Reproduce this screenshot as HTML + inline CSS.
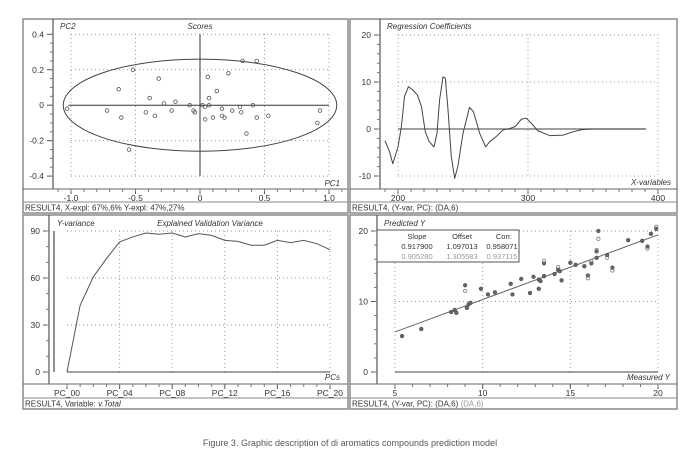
<!DOCTYPE html>
<html><head><meta charset="utf-8">
<style>
html,body{margin:0;padding:0;background:#fff;}
svg{display:block;font-family:"Liberation Sans",Arial,sans-serif;}
</style></head>
<body>
<svg id="s" width="700" height="474" viewBox="0 0 700 474">
<text x="350" y="446" font-size="9" fill="#555" text-anchor="middle">Figure 3. Graphic description of di aromatics compounds prediction model</text>
</svg>
<script>
// ---- Scores data ----
const scorePC1=[-1.03,-0.72,-0.61,-0.63,-0.52,-0.55,-0.42,-0.39,-0.35,-0.32,-0.28,-0.22,-0.19,-0.08,-0.05,-0.04,0.02,0.04,0.04,0.06,0.07,0.07,0.10,0.13,0.17,0.17,0.19,0.22,0.25,0.31,0.32,0.33,0.36,0.41,0.44,0.44,0.53,0.91,0.93];
const scorePC2=[-0.02,-0.03,-0.07,0.09,0.20,-0.25,-0.04,0.04,-0.06,0.15,0.01,-0.03,0.02,0.00,-0.03,-0.04,0.00,-0.01,-0.08,0.16,0.04,0.00,-0.07,0.08,-0.02,-0.06,-0.07,0.18,-0.03,-0.01,-0.04,0.25,-0.16,0.00,0.25,-0.07,-0.06,-0.10,-0.03];
const scoreXTicks=[-1.0,-0.5,0,0.5,1.0];
const scoreYTicks=[0.4,0.2,0,-0.2,-0.4];
// ---- Regression coefficients ----
const coefX=[190,193.5,196,200,202.6,205,208,211.5,215,218,221,224,227.7,230,232,234.6,236.4,238.5,241,243.6,246,250,255,258,262.8,267.4,270.5,275.6,280.8,286,290,295,298.7,302.6,307.7,316.7,327,334.6,342,350,391];
const coefY=[-2.5,-4.8,-7.4,-3.8,0.5,6.9,9.0,8.3,7.2,4.8,-0.6,-2.7,-3.8,-0.9,6.2,11.1,10.8,4.0,-5.9,-10.5,-8.0,-0.9,4.6,3.7,-0.9,-3.8,-2.7,-1.6,-0.2,0.1,0.5,2.1,2.3,1.2,-0.4,-1.4,-1.3,-0.6,-0.1,0,0];
const coefXTicks=[200,300,400];
const coefYTicks=[20,10,0,-10];
// ---- Explained variance ----
const pcIndex=[0,1,2,3,4,5,6,7,8,9,10,11,12,13,14,15,16,17,18,19,20];
const varValues=[0,42.6,60.7,72.4,83,86.2,88.7,87.9,88.7,86.2,88.3,87.2,84,83.4,80.9,80.9,84,82.6,84,81.9,78.1];
const varXTickLabels=["PC_00","PC_04","PC_08","PC_12","PC_16","PC_20"];
const varYTicks=[90,60,30,0];
// ---- Predicted vs measured ----
const measY=[5.4,6.5,8.2,8.4,8.5,9.0,9.1,9.2,9.3,9.9,10.3,10.7,11.6,11.7,12.2,12.7,12.9,13.2,13.2,13.3,13.5,13.5,14.1,14.3,14.4,14.5,15.0,15.3,15.8,16.0,16.2,16.5,16.5,16.6,17.1,17.4,18.3,19.1,19.4,19.6,19.9];
const predCal=[5.1,6.1,8.5,8.8,8.4,12.3,9.1,9.6,9.8,11.8,11.0,11.3,12.5,11.0,13.2,11.2,13.5,13.1,11.8,12.9,15.4,13.6,13.9,14.5,14.3,13.0,15.5,15.2,15.0,13.7,15.4,17.1,16.2,20.0,16.6,14.8,18.7,18.6,17.8,19.6,20.3];
const predVal=[5.1,6.1,8.5,8.8,8.4,11.5,9.1,9.6,9.8,11.8,11.0,11.3,12.5,11.0,13.2,11.2,13.5,13.1,11.8,12.9,15.8,13.6,13.9,14.9,14.3,13.0,15.5,15.2,15.0,13.3,15.7,17.3,16.2,18.9,16.2,14.4,18.7,18.6,17.5,19.6,20.6];
const predXTicks=[5,10,15,20];
const predYTicks=[20,10,0];
const fitSlope=0.9179, fitOffset=1.097;

const NS="http://www.w3.org/2000/svg";
const svg=document.getElementById('s');
function mk(tag,attrs,parent){const e=document.createElementNS(NS,tag);for(const k in attrs)e.setAttribute(k,attrs[k]);(parent||svg).appendChild(e);return e;}
function txt(x,y,s,size,anchor,parent,italic,fill){const t=mk('text',{x:x,y:y,'font-size':size,'text-anchor':anchor||'start',fill:fill||'#333'},parent);if(italic)t.setAttribute('font-style','italic');t.textContent=s;return t;}

function panel(name,x0,x1,y0,y1,axisX,bottom,sep,status,status2){
  const g=mk('g',{});
  
  
  mk('rect',{x:x0,y:y0,width:x1-x0,height:y1-y0,fill:'#fff',stroke:'#8a8a8a','stroke-width':1.5},g);
  mk('line',{x1:axisX,y1:y0,x2:axisX,y2:bottom,stroke:'#555','stroke-width':1.2},g);
  mk('line',{x1:x0,y1:bottom,x2:x1,y2:bottom,stroke:'#666','stroke-width':1},g);
  mk('line',{x1:x0,y1:sep,x2:x1,y2:sep,stroke:'#888','stroke-width':1},g);
  const st=txt(x0+2,sep+8.5,status,8,'start',g,false,'#333');
  
  
  if(status2){const t2=mk('tspan',{fill:'#999'},st);t2.textContent=status2;}
  return g;
}
function lin(d0,d1,p0,p1){return v=>p0+(v-d0)*(p1-p0)/(d1-d0);}
function grid(g,xs,ys,X,Y,xr,yr){
  xs.forEach(v=>mk('line',{x1:X(v),x2:X(v),y1:yr[0],y2:yr[1],stroke:'#999','stroke-dasharray':'1,3'},g));
  ys.forEach(v=>mk('line',{x1:xr[0],x2:xr[1],y1:Y(v),y2:Y(v),stroke:'#999','stroke-dasharray':'1,3'},g));
}
function yTicks(g,ticks,Y,axisX,fmt,minorStep){
  ticks.forEach(v=>{mk('line',{x1:axisX-6,x2:axisX,y1:Y(v),y2:Y(v),stroke:'#555'},g);
    const t=txt(axisX-9,Y(v)+3,fmt(v),8.5,'end',g);});
  const lo=Math.min(...ticks),hi=Math.max(...ticks);
  for(let v=lo;v<=hi+1e-9;v+=minorStep)mk('line',{x1:axisX-3,x2:axisX,y1:Y(v),y2:Y(v),stroke:'#777'},g);
}
function xTicks(g,ticks,labels,X,bottom,minorVals){
  ticks.forEach((v,i)=>{mk('line',{x1:X(v),x2:X(v),y1:bottom,y2:bottom+5,stroke:'#555'},g);
    const t=txt(X(v),bottom+12,labels[i],8.5,'middle',g);});
  minorVals.forEach(v=>mk('line',{x1:X(v),x2:X(v),y1:bottom,y2:bottom+3,stroke:'#777'},g));
}
function range(a,b,s){const r=[];for(let v=a;v<=b+1e-9;v+=s)r.push(+v.toFixed(6));return r;}

// ===== Panel 1: Scores =====
{
 const g=panel('scores-panel',23,348,19,213,53,189,202,'RESULT4, X-expl: 67%,6%  Y-expl: 47%,27%');
 const X=lin(-1,1,71,329),Y=lin(0,0.4,105.2,34.3);
 grid(g,[-1,-0.5,0.5,1],[0.4,0.2,-0.2,-0.4],X,Y,[71,329],[34,176]);
 mk('line',{x1:X(-1.02),x2:X(1.0),y1:Y(0),y2:Y(0),stroke:'#333'},g);
 mk('line',{x1:X(0),x2:X(0),y1:Y(0.4),y2:Y(-0.4),stroke:'#333'},g);
 const el=mk('ellipse',{cx:X(0),cy:Y(0),rx:X(1.06)-X(0),ry:Y(0)-Y(0.26),fill:'none',stroke:'#444'},g);
 
 yTicks(g,scoreYTicks,Y,53,v=>v===0?'0':v.toFixed(1),0.05);
 xTicks(g,scoreXTicks,scoreXTicks.map(v=>v===0?'0':v.toFixed(1)),X,189,range(-1.1,1.1,0.1));
 scorePC1.forEach((v,i)=>{const c=mk('circle',{cx:X(v),cy:Y(scorePC2[i]),r:1.8,fill:'none',stroke:'#555','stroke-width':0.8},g);
   });
 txt(60,29,'PC2',8,'start',g,true);txt(200,29,'Scores',8,'middle',g,true);txt(340,186,'PC1',8,'end',g,true);
}
// ===== Panel 2: Regression coefficients =====
{
 const g=panel('regression-coefficients-panel',350,677,19,213,380,189,202,'RESULT4, (Y-var, PC): (DA,6)');
 const X=lin(200,400,398,658),Y=lin(0,10,129,82);
 grid(g,[200,300,400],[20,10,-10],X,Y,[398,658],[34,176]);
 mk('line',{x1:X(200),x2:X(390),y1:Y(0),y2:Y(0),stroke:'#666','stroke-width':1.3},g);
 yTicks(g,coefYTicks,Y,380,v=>String(v),2);
 xTicks(g,coefXTicks,coefXTicks.map(String),X,189,range(190,400,10));
 const p=mk('polyline',{points:coefX.map((v,i)=>X(v)+','+Y(coefY[i])).join(' '),fill:'none',stroke:'#444','stroke-width':1,'stroke-linejoin':'round'},g);
 
 txt(387,29,'Regression Coefficients',8,'start',g,true);txt(671,185,'X-variables',8,'end',g,true);
}
// ===== Panel 3: Explained variance =====
{
 const g=panel('explained-variance-panel',23,348,215,409,49,384,398,'RESULT4, Variable:  ');
 const st=g.lastChild;const t2=mk('tspan',{'font-style':'italic'},st);t2.textContent='v.Total';
 const X=lin(0,20,67,330),Y=lin(0,90,372,231);
 grid(g,[4,8,12,16,20],[90,60,30],X,Y,[67,330],[231,372]);
 mk('line',{x1:54,x2:54,y1:231,y2:372,stroke:'#555','stroke-width':1.3},g);
 mk('line',{x1:X(0),x2:X(20),y1:Y(0),y2:Y(0),stroke:'#444'},g);
 yTicks(g,varYTicks,Y,49,v=>String(v),10);
 xTicks(g,[0,4,8,12,16,20],varXTickLabels,X,384,range(0,20,1));
 const p=mk('polyline',{points:pcIndex.map((v,i)=>X(v)+','+Y(varValues[i])).join(' '),fill:'none',stroke:'#555','stroke-width':1},g);
 
 txt(57,226,'Y-variance',8,'start',g,true);txt(210,226,'Explained Validation Variance',8,'middle',g,true);txt(340,380,'PCs',8,'end',g,true);
}
// ===== Panel 4: Predicted vs Measured =====
{
 const g=panel('predicted-vs-measured-panel',350,677,215,409,377,384,398,'RESULT4, (Y-var, PC): (DA,6) ','(DA,6)');
 const X=lin(5,20,395,658),Y=lin(0,20,372,231);
 grid(g,[5,10,15,20],[20,10],X,Y,[395,658],[231,372]);
 mk('line',{x1:X(5),x2:X(20),y1:Y(0),y2:Y(0),stroke:'#444'},g);
 yTicks(g,predYTicks,Y,377,v=>String(v),2);
 xTicks(g,predXTicks,predXTicks.map(String),X,384,range(5,20,1));
 const fl=mk('line',{x1:X(5),y1:Y(fitSlope*5+fitOffset),x2:X(20),y2:Y(fitSlope*20+fitOffset),stroke:'#666','stroke-width':1},g);
 
 measY.forEach((v,i)=>{const c=mk('circle',{cx:X(v),cy:Y(predVal[i]),r:1.7,fill:'#fff',stroke:'#777','stroke-width':0.8},g);
   });
 measY.forEach((v,i)=>{const c=mk('circle',{cx:X(v),cy:Y(predCal[i]),r:1.8,fill:'#666',stroke:'#555','stroke-width':0.6},g);
   });
 const box=mk('g',{},g);
 
 mk('rect',{x:377,y:230,width:142,height:32,fill:'#fff',stroke:'#555'},box);
 txt(417,239,'Slope',7.5,'middle',box);txt(462,239,'Offset',7.5,'middle',box);txt(504,239,'Corr.',7.5,'middle',box);
 txt(417,249,'0.917900',7.5,'middle',box);txt(462,249,'1.097013',7.5,'middle',box);txt(502,249,'0.958071',7.5,'middle',box);
 txt(417,259,'0.905280',7.5,'middle',box,false,'#999');txt(462,259,'1.305583',7.5,'middle',box,false,'#999');txt(502,259,'0.937115',7.5,'middle',box,false,'#999');
 txt(384,226,'Predicted Y',8,'start',g,true);txt(670,380,'Measured Y',8,'end',g,true);
}
</script>
</body></html>
